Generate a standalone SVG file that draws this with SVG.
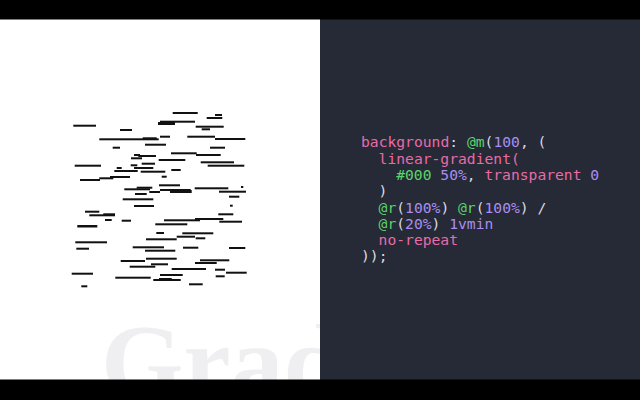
<svg xmlns="http://www.w3.org/2000/svg" width="640" height="400" viewBox="0 0 640 400">
<style>
.d{fill:#111}
.code{font-family:"DejaVu Sans Mono","Liberation Mono",monospace;font-size:14.67px;fill:#d8dae0}
.p{fill:#e86ca8}
.g{fill:#5ad46a}
.v{fill:#a88ef0}
.big{font-family:"Liberation Serif","DejaVu Serif",serif;font-weight:bold;font-size:106px;fill:#efeff2}
</style>
<rect x="0" y="0" width="640" height="400" fill="#ffffff"/>
<text class="big" x="101" y="398">Grad</text>
<rect x="320" y="0" width="320" height="400" fill="#262936"/>
<g id="dashes">
<rect class="d" x="172.7" y="112" width="25" height="2"/>
<rect class="d" x="215" y="114" width="7" height="2"/>
<rect class="d" x="206.7" y="117" width="15.6" height="2"/>
<rect class="d" x="73.3" y="124.7" width="22.7" height="2"/>
<rect class="d" x="160" y="120.7" width="35" height="2"/>
<rect class="d" x="158" y="122" width="17" height="3"/>
<rect class="d" x="120" y="129" width="12" height="2"/>
<rect class="d" x="195.7" y="125.7" width="28" height="2"/>
<rect class="d" x="201.7" y="128.3" width="8.3" height="2"/>
<rect class="d" x="99.3" y="138.3" width="59.4" height="2"/>
<rect class="d" x="142.7" y="137.3" width="14" height="2"/>
<rect class="d" x="160" y="135.7" width="10" height="2"/>
<rect class="d" x="187.3" y="135.7" width="27.7" height="2"/>
<rect class="d" x="215" y="138" width="30.3" height="2"/>
<rect class="d" x="145" y="143.7" width="21" height="2"/>
<rect class="d" x="112.7" y="146.7" width="7.3" height="2"/>
<rect class="d" x="210" y="146.7" width="15" height="2"/>
<rect class="d" x="171" y="152.3" width="25.7" height="2"/>
<rect class="d" x="196" y="154" width="24.7" height="2"/>
<rect class="d" x="134" y="154" width="6" height="2"/>
<rect class="d" x="138.3" y="155" width="17.7" height="2"/>
<rect class="d" x="131" y="157.3" width="11" height="2"/>
<rect class="d" x="158.7" y="159" width="26.6" height="2"/>
<rect class="d" x="200.7" y="161.3" width="33.3" height="2"/>
<rect class="d" x="207.7" y="164.7" width="36.6" height="2"/>
<rect class="d" x="74.7" y="164.7" width="26.3" height="2"/>
<rect class="d" x="141.7" y="162.7" width="13.3" height="2"/>
<rect class="d" x="130.7" y="164.3" width="6.6" height="2"/>
<rect class="d" x="134" y="167" width="19.3" height="2"/>
<rect class="d" x="116.7" y="167" width="5" height="2"/>
<rect class="d" x="171.3" y="169" width="9.4" height="2"/>
<rect class="d" x="114.3" y="170" width="23.4" height="2"/>
<rect class="d" x="140.7" y="170.7" width="24.6" height="2"/>
<rect class="d" x="161.7" y="175.7" width="5" height="2"/>
<rect class="d" x="110" y="176" width="20" height="2"/>
<rect class="d" x="99.3" y="177.3" width="14" height="2"/>
<rect class="d" x="80" y="179" width="20" height="2"/>
<rect class="d" x="159" y="184.3" width="21" height="2"/>
<rect class="d" x="194.7" y="187.3" width="33.6" height="2"/>
<rect class="d" x="136.7" y="186.7" width="15.6" height="2"/>
<rect class="d" x="124.3" y="188.3" width="25.7" height="2"/>
<rect class="d" x="160" y="189" width="30.7" height="2"/>
<rect class="d" x="170" y="190" width="21.7" height="3"/>
<rect class="d" x="149.3" y="191" width="10.7" height="2"/>
<rect class="d" x="241" y="186" width="2.3" height="2"/>
<rect class="d" x="219" y="190.7" width="27" height="2"/>
<rect class="d" x="135" y="193" width="11.7" height="2"/>
<rect class="d" x="229" y="195.7" width="10.3" height="2"/>
<rect class="d" x="122.7" y="198.3" width="30.6" height="2"/>
<rect class="d" x="134" y="205" width="20" height="2"/>
<rect class="d" x="230" y="204.7" width="2.7" height="2"/>
<rect class="d" x="85" y="210.7" width="14.3" height="2"/>
<rect class="d" x="89.3" y="214.3" width="25.7" height="2"/>
<rect class="d" x="103.3" y="213.3" width="11.7" height="2"/>
<rect class="d" x="218.3" y="213.3" width="15" height="2"/>
<rect class="d" x="105" y="219" width="6.7" height="2"/>
<rect class="d" x="121.7" y="219.7" width="9.3" height="2"/>
<rect class="d" x="164" y="219.3" width="36" height="2"/>
<rect class="d" x="195" y="218" width="28.3" height="2"/>
<rect class="d" x="219.3" y="220.7" width="22.7" height="2"/>
<rect class="d" x="155.3" y="223.3" width="32" height="2"/>
<rect class="d" x="77.3" y="225" width="20" height="2.5"/>
<rect class="d" x="156.3" y="232" width="7.7" height="2"/>
<rect class="d" x="182.3" y="232.3" width="31" height="2"/>
<rect class="d" x="176.7" y="235.7" width="18.3" height="2"/>
<rect class="d" x="195.7" y="237.3" width="9.6" height="2"/>
<rect class="d" x="146" y="238.3" width="30.7" height="2"/>
<rect class="d" x="75.3" y="241.3" width="31.7" height="2"/>
<rect class="d" x="76.3" y="247.7" width="12.7" height="2"/>
<rect class="d" x="132.7" y="246.3" width="31.3" height="2"/>
<rect class="d" x="145" y="249.7" width="30.3" height="2"/>
<rect class="d" x="183" y="246.7" width="15.3" height="2"/>
<rect class="d" x="229" y="247" width="16.3" height="2"/>
<rect class="d" x="146" y="257.7" width="30.7" height="2"/>
<rect class="d" x="120.7" y="260" width="24.3" height="2"/>
<rect class="d" x="200" y="259.3" width="29.3" height="2"/>
<rect class="d" x="151" y="263.3" width="17" height="2"/>
<rect class="d" x="195" y="262" width="21.7" height="2"/>
<rect class="d" x="129.7" y="265.7" width="25.6" height="2"/>
<rect class="d" x="171.7" y="268" width="34.3" height="2"/>
<rect class="d" x="215" y="268.7" width="10" height="2"/>
<rect class="d" x="226" y="271.7" width="20.7" height="2"/>
<rect class="d" x="71.7" y="272.7" width="21.3" height="2"/>
<rect class="d" x="160" y="274" width="22.7" height="2"/>
<rect class="d" x="215.7" y="275.3" width="9" height="2"/>
<rect class="d" x="115.3" y="276.7" width="35.4" height="2"/>
<rect class="d" x="159" y="278" width="12.7" height="2"/>
<rect class="d" x="153.3" y="279" width="27.4" height="2"/>
<rect class="d" x="189" y="283.3" width="13.7" height="2"/>
<rect class="d" x="81.3" y="285.3" width="6" height="2"/>
</g>
<g id="code" class="code">
<text x="361" y="147.3" xml:space="preserve"><tspan class="p">background</tspan>: <tspan class="g">@m</tspan>(<tspan class="v">100</tspan>, (</text>
<text x="378.6" y="163.6" xml:space="preserve"><tspan class="p">linear-gradient(</tspan></text>
<text x="396.2" y="179.9" xml:space="preserve"><tspan class="g">#000</tspan> <tspan class="v">50%</tspan>, <tspan class="p">transparent</tspan> <tspan class="v">0</tspan></text>
<text x="378.6" y="196.2" xml:space="preserve">)</text>
<text x="378.6" y="212.5" xml:space="preserve"><tspan class="g">@r</tspan>(<tspan class="v">100%</tspan>) <tspan class="g">@r</tspan>(<tspan class="v">100%</tspan>) /</text>
<text x="378.6" y="228.8" xml:space="preserve"><tspan class="g">@r</tspan>(<tspan class="v">20%</tspan>) <tspan class="v">1vmin</tspan></text>
<text x="378.6" y="245.1" xml:space="preserve"><tspan class="p">no-repeat</tspan></text>
<text x="361" y="261.4" xml:space="preserve">));</text>
</g>
<rect x="0" y="0" width="640" height="19.5" fill="#000"/>
<rect x="0" y="379.5" width="640" height="20.5" fill="#000"/>
</svg>
